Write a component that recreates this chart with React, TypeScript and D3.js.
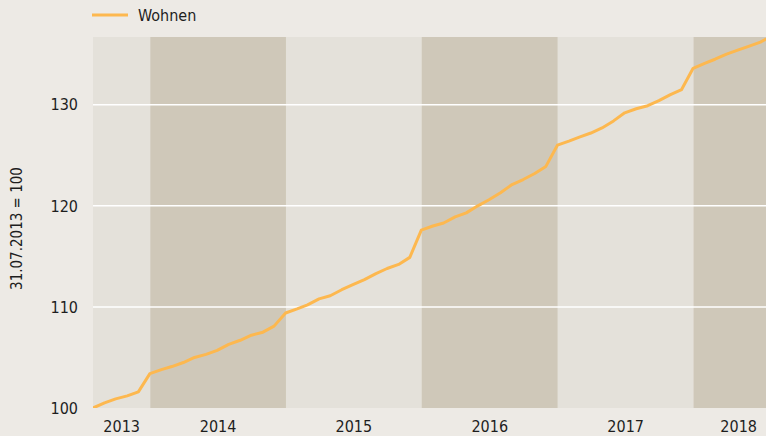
import React from "react";
import * as d3 from "d3";

// Monthly index values (31.07.2013 = 100), month-end dates from Jul 2013 to Jul 2018
const startYear = 2013;
const startMonth = 6; // July (0-based)
const wohnen: number[] = [
  // 2013 Jul..Dec
  100.0, 100.5, 100.9, 101.2, 101.6, 103.4,
  // 2014
  103.8, 104.1, 104.5, 105.0, 105.3, 105.7, 106.3, 106.7, 107.2, 107.5, 108.1, 109.4,
  // 2015
  109.8, 110.2, 110.8, 111.1, 111.7, 112.2, 112.7, 113.3, 113.8, 114.2, 114.9, 117.6,
  // 2016
  118.0, 118.3, 118.9, 119.3, 120.0, 120.6, 121.3, 122.1, 122.6, 123.2, 123.9, 126.0,
  // 2017
  126.4, 126.8, 127.2, 127.7, 128.4, 129.2, 129.6, 129.9, 130.4, 131.0, 131.5, 133.6,
  // 2018 Jan..Jul
  134.1, 134.5, 135.0, 135.4, 135.8, 136.2, 136.8,
];
const years = [2013, 2014, 2015, 2016, 2017, 2018];
const yTicks = [100, 110, 120, 130];
const gridTicks = [110, 120, 130];
const seriesName = "Wohnen";
const yTitle = "31.07.2013 = 100";

const W = 766;
const H = 436;
const M = { left: 93, right: 0, top: 37, bottom: 28 };

const BG = "#edeae5";
const BAND_LIGHT = "#e4e1da";
const BAND_DARK = "#cfc8b9";
const LINE = "#fdb84f";
const TEXT = "#1e1e1e";
const NARROW = "'Liberation Sans Narrow', 'DejaVu Sans Condensed', 'Arial Narrow', sans-serif";

export default function App() {
  const data = wohnen.map((v, i) => ({
    date: new Date(startYear, startMonth + i + 1, 0),
    value: v,
  }));
  const d0 = new Date(2013, 6, 31);
  const d1 = new Date(2018, 6, 15);
  const x = d3.scaleTime().domain([d0, d1]).range([M.left, W - M.right]);
  const y = d3.scaleLinear().domain([100, 136.7]).range([H - M.bottom, M.top]);
  const line = d3
    .line<{ date: Date; value: number }>()
    .x((d) => x(d.date))
    .y((d) => y(d.value));

  const labelEnd = new Date(2018, 8, 1);
  const bands = years.map((yr, i) => {
    const s = new Date(yr, 0, 1) < d0 ? d0 : new Date(yr, 0, 1);
    const e = new Date(yr + 1, 0, 1) > d1 ? d1 : new Date(yr + 1, 0, 1);
    const le = new Date(yr + 1, 0, 1) > d1 ? labelEnd : e;
    return {
      yr,
      x0: x(s),
      x1: x(e),
      lx: (x(s) + x(le)) / 2,
      dark: i % 2 === 1,
    };
  });

  return (
    <svg
      width={W}
      height={H}
      style={{ position: "absolute", left: 0, top: 0, display: "block" }}
    >
      <defs>
        <clipPath id="plot">
          <rect x={M.left} y={M.top} width={W - M.left - M.right} height={H - M.top - M.bottom} />
        </clipPath>
      </defs>
      <rect x={0} y={0} width={W} height={H} fill={BG} />
      {bands.map((b) => (
        <rect
          key={b.yr}
          x={b.x0}
          y={M.top}
          width={b.x1 - b.x0}
          height={H - M.top - M.bottom}
          fill={b.dark ? BAND_DARK : BAND_LIGHT}
        />
      ))}
      {gridTicks.map((t) => (
        <line
          key={t}
          x1={M.left}
          x2={W - M.right}
          y1={y(t)}
          y2={y(t)}
          stroke="#ffffff"
          strokeWidth={1.5}
        />
      ))}
      <path
        d={line(data) || ""}
        fill="none"
        stroke={LINE}
        strokeWidth={3}
        strokeLinejoin="round"
        clipPath="url(#plot)"
      />
      {yTicks.map((t) => (
        <text
          key={t}
          x={78}
          y={y(t)}
          dy="0.36em"
          textAnchor="end"
          fontFamily={NARROW}
          fontSize={16}
          fill={TEXT}
        >
          {t}
        </text>
      ))}
      {bands.map((b) => (
        <text
          key={"l" + b.yr}
          x={b.lx}
          y={432}
          textAnchor="middle"
          fontFamily={NARROW}
          fontSize={16}
          fill={TEXT}
        >
          {b.yr}
        </text>
      ))}
      <text
        transform={`translate(22, ${(M.top + H - M.bottom) / 2 + 6}) rotate(-90)`}
        textAnchor="middle"
        fontFamily={NARROW}
        fontSize={15}
        fill={TEXT}
      >
        {yTitle}
      </text>
      <line x1={92} x2={128} y1={15} y2={15} stroke={LINE} strokeWidth={3} />
      <text x={138} y={21} fontFamily={NARROW} fontSize={16} fill={TEXT}>
        {seriesName}
      </text>
    </svg>
  );
}
